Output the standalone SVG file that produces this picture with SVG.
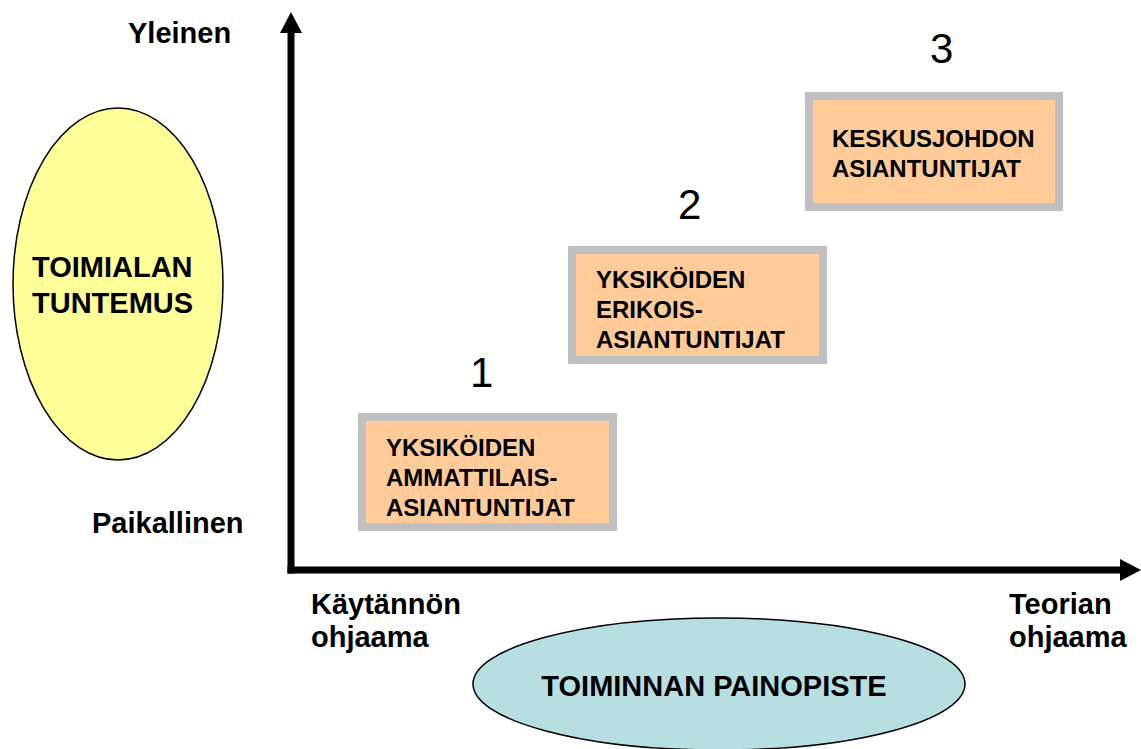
<svg xmlns="http://www.w3.org/2000/svg" width="1141" height="749" viewBox="0 0 1141 749">
  <defs>
    <marker id="head" markerUnits="userSpaceOnUse" markerWidth="24" markerHeight="24" viewBox="0 -12 22 24" refX="0" refY="0" orient="auto">
      <path d="M0,-11 L21,0 L0,11 Z" fill="#000"/>
    </marker>
    <style>
      text { font-family: "Liberation Sans", Arial, sans-serif; fill: #000; }
      .lbl { font-size: 29px; font-weight: bold; }
      .box-text { font-size: 24px; font-weight: bold; }
      .num { font-size: 42px; }
      .box { fill: #FFCC99; stroke: #C0C0C0; stroke-width: 8; }
      .axis { stroke: #000; stroke-width: 7; fill: none; }
    </style>
  </defs>
  <rect width="1141" height="749" fill="#fff"/>

  <!-- axes -->
  <g id="connectors">
    <line class="axis" x1="291" y1="573.5" x2="291" y2="33" marker-end="url(#head)"/>
    <line class="axis" x1="287.5" y1="570" x2="1120" y2="570" marker-end="url(#head)"/>
  </g>

  <!-- axis labels -->
  <g id="axis-labels">
    <text class="lbl" x="128" y="43">Yleinen</text>
    <text class="lbl" x="92" y="533">Paikallinen</text>
    <text class="lbl" x="311" y="614">Käytännön</text>
    <text class="lbl" x="311" y="647">ohjaama</text>
    <text class="lbl" x="1009" y="614">Teorian</text>
    <text class="lbl" x="1009" y="647">ohjaama</text>
  </g>

  <g id="toimialan-tuntemus">
    <ellipse cx="118" cy="284" rx="105" ry="176" fill="#FFFF99" stroke="#000" stroke-width="1.5"/>
    <text class="lbl" x="32" y="277">TOIMIALAN</text>
    <text class="lbl" x="32" y="313">TUNTEMUS</text>
  </g>

  <g id="toiminnan-painopiste">
    <ellipse cx="719" cy="684" rx="246" ry="66" fill="#B7DEE1" stroke="#000" stroke-width="1.5"/>
    <text class="lbl" x="714" y="696" text-anchor="middle">TOIMINNAN PAINOPISTE</text>
  </g>

  <g id="taso-1">
    <text class="num" x="470" y="387">1</text>
    <rect class="box" x="362" y="417" width="251" height="110"/>
    <text class="box-text" x="386" y="456">YKSIKÖIDEN</text>
    <text class="box-text" x="386" y="486">AMMATTILAIS-</text>
    <text class="box-text" x="386" y="516">ASIANTUNTIJAT</text>
  </g>

  <g id="taso-2">
    <text class="num" x="678" y="219">2</text>
    <rect class="box" x="572" y="250" width="251" height="110"/>
    <text class="box-text" x="596" y="288">YKSIKÖIDEN</text>
    <text class="box-text" x="596" y="318">ERIKOIS-</text>
    <text class="box-text" x="596" y="348">ASIANTUNTIJAT</text>
  </g>

  <g id="taso-3">
    <text class="num" x="930" y="63">3</text>
    <rect class="box" x="809" y="96" width="250" height="111"/>
    <text class="box-text" x="832" y="147">KESKUSJOHDON</text>
    <text class="box-text" x="832" y="177">ASIANTUNTIJAT</text>
  </g>
</svg>
